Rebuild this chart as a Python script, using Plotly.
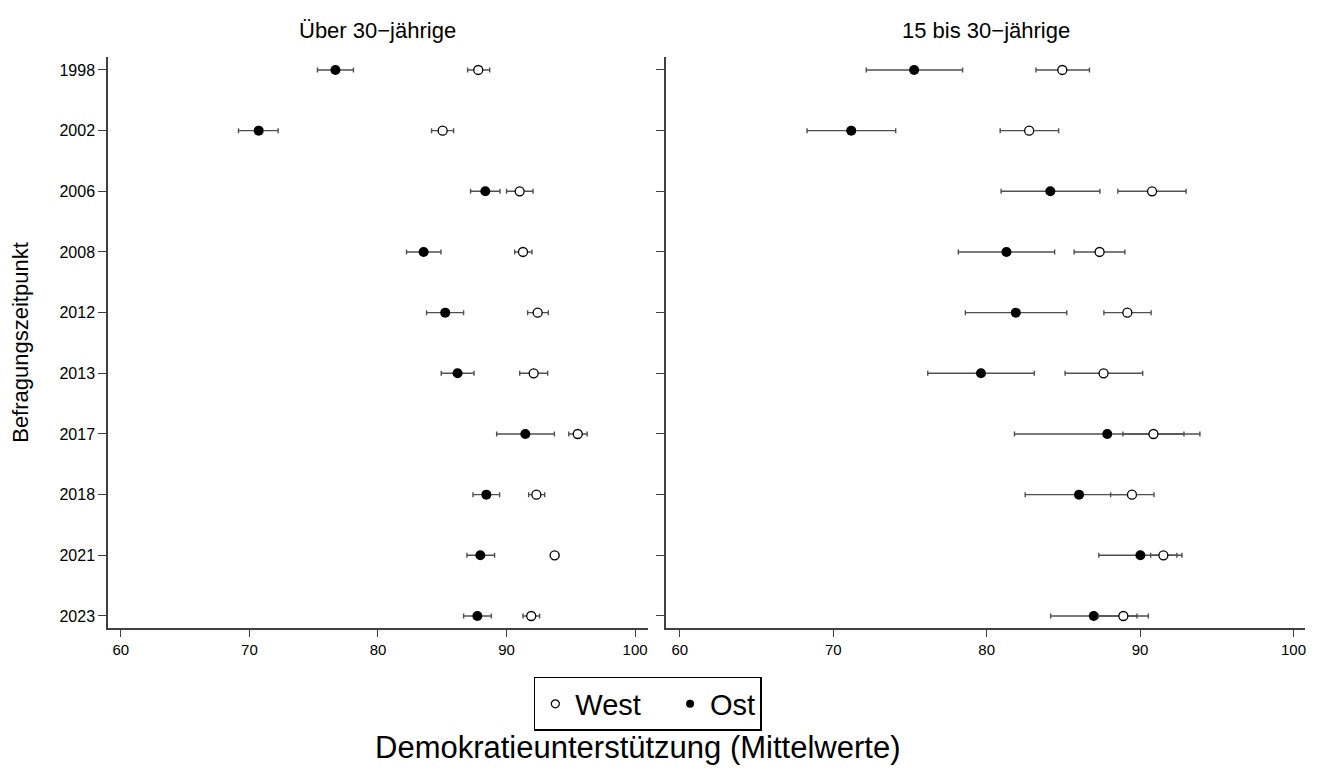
import plotly.graph_objects as go

years = ["1998", "2002", "2006", "2008", "2012", "2013", "2017", "2018", "2021", "2023"]

# Über 30-jährige
old_west = [87.80, 85.03, 91.02, 91.28, 92.42, 92.11, 95.54, 92.32, 93.74, 91.92]
old_west_lo = [86.97, 84.17, 90.00, 90.63, 91.64, 91.02, 94.84, 91.72, 93.46, 91.28]
old_west_hi = [88.69, 85.88, 92.06, 91.98, 93.25, 93.20, 96.27, 92.97, 94.05, 92.57]
old_ost = [76.69, 70.72, 88.35, 83.55, 85.23, 86.19, 91.46, 88.43, 87.96, 87.73]
old_ost_lo = [75.29, 69.15, 87.20, 82.22, 83.78, 84.92, 89.23, 87.39, 86.92, 86.66]
old_ost_hi = [78.09, 72.23, 89.49, 84.90, 86.66, 87.47, 93.72, 89.46, 89.07, 88.82]

# 15 bis 30-jährige
young_west = [84.93, 82.77, 90.78, 87.36, 89.17, 87.62, 90.87, 89.47, 91.52, 88.91]
young_west_lo = [83.21, 80.88, 88.55, 85.70, 87.64, 85.11, 88.88, 88.08, 90.69, 87.28]
young_west_hi = [86.70, 84.69, 93.00, 89.01, 90.72, 90.17, 92.86, 90.91, 92.40, 90.54]
young_ost = [75.27, 71.17, 84.15, 81.29, 81.90, 79.63, 87.86, 86.02, 90.02, 86.98]
young_ost_lo = [72.15, 68.29, 80.94, 78.15, 78.61, 76.16, 81.81, 82.51, 87.31, 84.17]
young_ost_hi = [78.43, 74.07, 87.38, 84.43, 85.22, 83.10, 93.90, 89.53, 92.73, 89.80]

panel_titles = ["Über 30−jährige", "15 bis 30−jährige"]
x_ticks = [60, 70, 80, 90, 100]

FONT = "Liberation Sans, Arial, sans-serif"
AX = "#404040"
EB = "#505050"


def err(mean, lo, hi):
    return dict(type="data", symmetric=False,
                array=[h - m for m, h in zip(mean, hi)],
                arrayminus=[m - l for m, l in zip(mean, lo)],
                color=EB, thickness=1.4, width=2.5)


fig = go.Figure()

panels = [
    ("x", "y", old_west, old_west_lo, old_west_hi, old_ost, old_ost_lo, old_ost_hi),
    ("x2", "y2", young_west, young_west_lo, young_west_hi, young_ost, young_ost_lo, young_ost_hi),
]
for xa, ya, w, wl, wh, o, ol, oh in panels:
    fig.add_trace(go.Scatter(
        x=o, y=years, mode="markers", xaxis=xa, yaxis=ya, showlegend=False,
        error_x=err(o, ol, oh),
        marker=dict(symbol="circle", size=10, color="black", line=dict(color="black", width=0))))
    fig.add_trace(go.Scatter(
        x=w, y=years, mode="markers", xaxis=xa, yaxis=ya, showlegend=False,
        error_x=err(w, wl, wh),
        marker=dict(symbol="circle", size=9, color="white", line=dict(color="black", width=1.3))))

# legend entries
fig.add_trace(go.Scatter(x=[None], y=[None], mode="markers", name="West\u00a0\u00a0\u00a0", legendrank=1,
                         marker=dict(symbol="circle", size=8, color="white", line=dict(color="black", width=1.2))))
fig.add_trace(go.Scatter(x=[None], y=[None], mode="markers", name="Ost", legendrank=2,
                         marker=dict(symbol="circle", size=8, color="black")))

common_x = dict(tickmode="array", tickvals=x_ticks, ticktext=[str(v) for v in x_ticks],
                showgrid=False, zeroline=False, showline=True, linecolor=AX, linewidth=1.5,
                ticks="outside", ticklen=7, tickcolor=AX, tickwidth=1.3,
                tickfont=dict(size=15, color="black", family=FONT))
common_y = dict(type="category", categoryorder="array", categoryarray=years,
                range=[9.198, -0.214], showgrid=False, zeroline=False, showline=True,
                linecolor=AX, linewidth=1.5, ticks="outside", ticklen=8, tickcolor=AX, tickwidth=1.3,
                tickfont=dict(size=16, color="black", family=FONT))

# page body adds an 8px offset; margins compensate for it
fig.update_layout(
    width=1323, height=777,
    margin=dict(l=100, r=26, t=49, b=157),
    plot_bgcolor="white", paper_bgcolor="white",
    font=dict(family=FONT, color="black"),
    xaxis=dict(domain=[0, 0.4511], range=[59.0, 101.0], anchor="y", **common_x),
    xaxis2=dict(domain=[0.4662, 1.0], range=[59.1, 100.75], anchor="y2", **common_x),
    yaxis=dict(anchor="x", ticklabelstandoff=0,
               title=dict(text="Befragungszeitpunkt", font=dict(size=22, family=FONT), standoff=25),
               **common_y),
    yaxis2=dict(anchor="x2", showticklabels=False, **common_y),
    legend=dict(orientation="h", x=0.451, xanchor="center", y=-0.0858, yanchor="top",
                bordercolor="black", borderwidth=1.5, bgcolor="white",
                font=dict(size=29, family=FONT, color="black"),
                traceorder="normal"),
    showlegend=True,
)

fig.add_annotation(text=panel_titles[0], xref="paper", yref="paper", x=0.4511 / 2, y=1.047,
                   xanchor="center", yanchor="middle", showarrow=False,
                   font=dict(size=22, family=FONT, color="black"))
fig.add_annotation(text=panel_titles[1], xref="paper", yref="paper", x=(0.4662 + 1.0) / 2, y=1.047,
                   xanchor="center", yanchor="middle", showarrow=False,
                   font=dict(size=22, family=FONT, color="black"))
fig.add_annotation(text="Demokratieunterstützung (Mittelwerte)", xref="paper", yref="paper",
                   x=(637 - 108) / 1197, y=-0.21, xanchor="center", yanchor="middle", showarrow=False,
                   font=dict(size=31, family=FONT, color="black"))

fig.write_html("out.html")
